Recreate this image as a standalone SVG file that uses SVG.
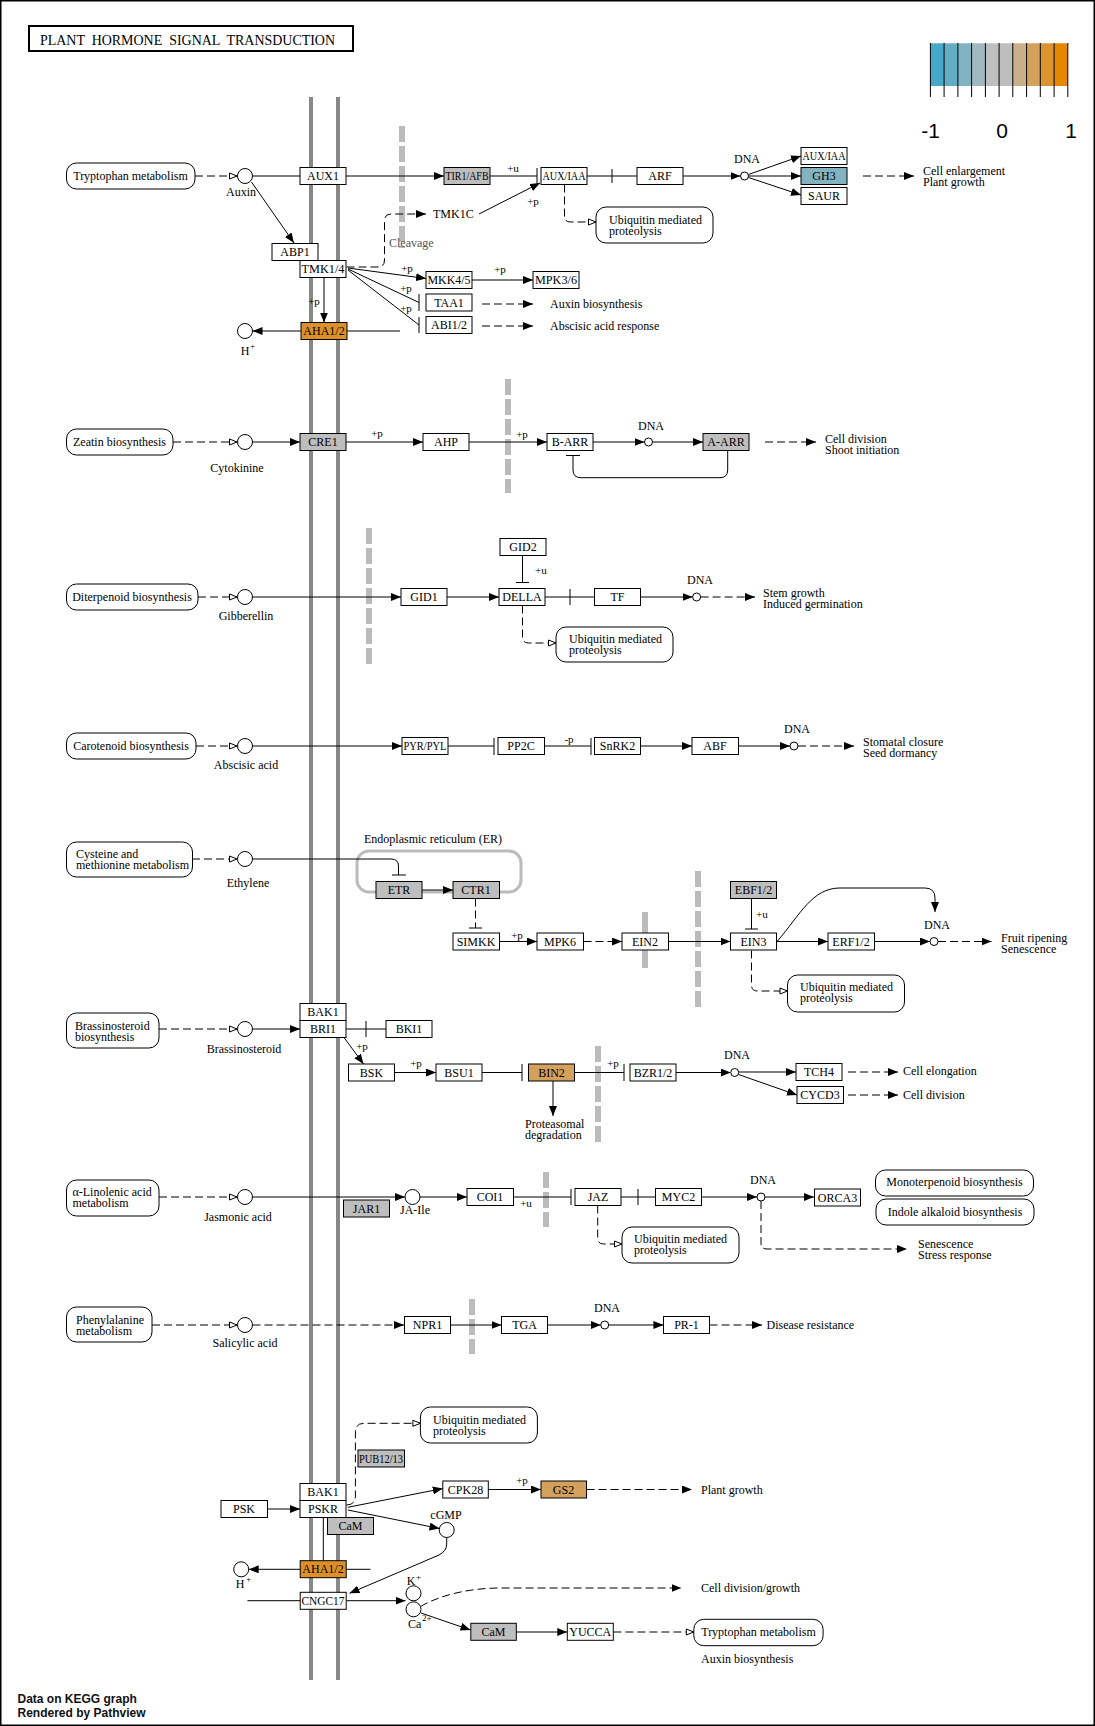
<svg xmlns="http://www.w3.org/2000/svg" width="1095" height="1726" viewBox="0 0 1095 1726">
<style>
.bx{fill:#fff;stroke:#000;stroke-width:1}
.gy{fill:#bebebe}
.or{fill:#de9028}
.tn{fill:#d3a15d}
.bl{fill:#83b3c1}
.tx{font-family:"Liberation Serif","Times New Roman",serif;font-size:12px;fill:#000}
.sm{font-size:11px}
.ct{text-anchor:middle}
.ln{fill:none;stroke:#000;stroke-width:1}
.ds{stroke-dasharray:8 4}
.sep{stroke:#bbb;stroke-width:6;stroke-dasharray:16 4;fill:none}
.cp{fill:#fff;stroke:#000;stroke-width:1}
.mem{stroke:#888;stroke-width:4}
</style>
<defs>
<marker id="ar" viewBox="0 0 10 8" markerUnits="userSpaceOnUse" markerWidth="10" markerHeight="8" refX="10" refY="4" orient="auto"><path d="M0,0L10,4L0,8z" fill="#000"/></marker>
<marker id="ho" viewBox="0 0 9 9" markerUnits="userSpaceOnUse" markerWidth="9" markerHeight="9" refX="8.5" refY="4.5" orient="auto"><path d="M1,1.5L8.5,4.5L1,7.5z" fill="#fff" stroke="#000" stroke-width="1"/></marker>
</defs>
<rect x="0" y="0" width="1095" height="1726" fill="#fff"/>
<rect x="0.75" y="0.75" width="1093.5" height="1724.5" fill="none" stroke="#000" stroke-width="1.5"/>

<g id="title"><rect x="29" y="26" width="324" height="25" fill="#fff" stroke="#000" stroke-width="2"/><text class="tx" x="40" y="45" style="font-size:15px;white-space:pre" xml:space="preserve" textLength="295" lengthAdjust="spacingAndGlyphs">PLANT  HORMONE  SIGNAL  TRANSDUCTION</text></g>

<g id="legend">
<rect x="930.4" y="43.3" width="13.8" height="42.7" fill="#46a9c8"/>
<rect x="944.1" y="43.3" width="13.8" height="42.7" fill="#64aec5"/>
<rect x="957.9" y="43.3" width="13.8" height="42.7" fill="#82b3c2"/>
<rect x="971.6" y="43.3" width="13.8" height="42.7" fill="#a0b8bf"/>
<rect x="985.4" y="43.3" width="13.8" height="42.7" fill="#bebebe"/>
<rect x="999.1" y="43.3" width="13.8" height="42.7" fill="#bebebe"/>
<rect x="1012.8" y="43.3" width="13.8" height="42.7" fill="#c9af8c"/>
<rect x="1026.6" y="43.3" width="13.8" height="42.7" fill="#d3a15c"/>
<rect x="1040.3" y="43.3" width="13.8" height="42.7" fill="#dc942e"/>
<rect x="1054.1" y="43.3" width="13.7" height="42.7" fill="#e58700"/>
<path d="M930.4,43V97M944.1,43V97M957.9,43V97M971.6,43V97M985.4,43V97M999.1,43V97M1012.8,43V97M1026.6,43V97M1040.3,43V97M1054.1,43V97M1067.8,43V97" stroke="#000" stroke-width="1"/>
<text x="930.5" y="138" text-anchor="middle" font-family="Liberation Sans, Arial, sans-serif" font-size="21">-1</text>
<text x="1002" y="138" text-anchor="middle" font-family="Liberation Sans, Arial, sans-serif" font-size="21">0</text>
<text x="1071" y="138" text-anchor="middle" font-family="Liberation Sans, Arial, sans-serif" font-size="21">1</text>
</g>

<g id="membrane"><line class="mem" x1="311" y1="97" x2="311" y2="1680"/><line class="mem" x1="338" y1="97" x2="338" y2="1680"/></g>

<g id="separators">
<line class="sep" x1="402" y1="126" x2="402" y2="248"/>
<line class="sep" x1="508" y1="379" x2="508" y2="493"/>
<line class="sep" x1="369" y1="528" x2="369" y2="664"/>
<line x1="645" y1="912" x2="645" y2="968" stroke="#bbb" stroke-width="6"/>
<line class="sep" x1="698" y1="871" x2="698" y2="1008"/>
<line class="sep" x1="598" y1="1046" x2="598" y2="1143"/>
<line class="sep" x1="546" y1="1172" x2="546" y2="1227"/>
<line class="sep" x1="472" y1="1299" x2="472" y2="1354"/>
<rect x="357" y="851" width="164" height="41" rx="12" fill="none" stroke="#bbb" stroke-width="3"/>
</g>

<g id="connectors">
<line class="ln ds" x1="195" y1="176" x2="237" y2="176" marker-end="url(#ho)"/>
<line class="ln" x1="252.5" y1="176" x2="300" y2="176"/>
<line class="ln" x1="346" y1="176" x2="444" y2="176" marker-end="url(#ar)"/>
<path class="ln" d="M490,176H537M537,168V184"/>
<path class="ln" d="M587,176H637M612,169V183"/>
<line class="ln" x1="683" y1="176" x2="740.5" y2="176" marker-end="url(#ar)"/>
<line class="ln" x1="748.5" y1="174.5" x2="801" y2="156" marker-end="url(#ar)"/>
<line class="ln" x1="748.5" y1="176" x2="801" y2="176" marker-end="url(#ar)"/>
<line class="ln" x1="748.5" y1="177.5" x2="801" y2="195" marker-end="url(#ar)"/>
<line class="ln ds" x1="863" y1="176" x2="914" y2="176" marker-end="url(#ar)"/>
<path class="ln ds" d="M564.5,184.5V216Q564.5,222 570.5,222H596" marker-end="url(#ho)"/>
<path class="ln ds" d="M346.5,267H378Q384.5,267 384.5,260V221Q384.5,214 391,214H426" marker-end="url(#ar)"/>
<line class="ln" x1="479" y1="214" x2="540" y2="183" marker-end="url(#ar)"/>
<line class="ln" x1="251.5" y1="182" x2="294" y2="243" marker-end="url(#ar)"/>
<line class="ln" x1="348" y1="268" x2="426" y2="278.5" marker-end="url(#ar)"/>
<line class="ln" x1="472" y1="280" x2="533" y2="280" marker-end="url(#ar)"/>
<path class="ln" d="M348,269L419,302.5M419,294V311"/>
<path class="ln" d="M348,270L419,325M419,317V333"/>
<line class="ln ds" x1="482" y1="304" x2="533" y2="304" marker-end="url(#ar)"/>
<line class="ln ds" x1="482" y1="326" x2="533" y2="326" marker-end="url(#ar)"/>
<line class="ln" x1="324" y1="277.5" x2="324" y2="322.5" marker-end="url(#ar)"/>
<line class="ln" x1="301" y1="331" x2="252.5" y2="331" marker-end="url(#ar)"/>
<line class="ln" x1="347" y1="331" x2="400" y2="331"/>
<line class="ln ds" x1="173" y1="442" x2="237" y2="442" marker-end="url(#ho)"/>
<line class="ln" x1="252.5" y1="442" x2="300" y2="442" marker-end="url(#ar)"/>
<line class="ln" x1="346" y1="442" x2="423" y2="442" marker-end="url(#ar)"/>
<line class="ln" x1="469" y1="442" x2="547" y2="442" marker-end="url(#ar)"/>
<line class="ln" x1="593" y1="442" x2="644.5" y2="442" marker-end="url(#ar)"/>
<line class="ln" x1="652.5" y1="442" x2="703" y2="442" marker-end="url(#ar)"/>
<path class="ln" d="M727.7,450.5V470Q727.7,477.7 720,477.7H581Q573,477.7 573,470V455.5M566,455.5H580"/>
<line class="ln ds" x1="765" y1="442" x2="816" y2="442" marker-end="url(#ar)"/>
<line class="ln ds" x1="198" y1="597" x2="237" y2="597" marker-end="url(#ho)"/>
<line class="ln" x1="252.5" y1="597" x2="401" y2="597" marker-end="url(#ar)"/>
<line class="ln" x1="447" y1="597" x2="499" y2="597" marker-end="url(#ar)"/>
<path class="ln" d="M522.5,555.5V582.5M516,582.5H529"/>
<path class="ln" d="M545,597H594M570,589V605"/>
<line class="ln" x1="640.5" y1="597" x2="692.6" y2="597" marker-end="url(#ar)"/>
<line class="ln ds" x1="700.6" y1="597" x2="755" y2="597" marker-end="url(#ar)"/>
<path class="ln ds" d="M522.5,605.5V637Q522.5,643 528.5,643H556" marker-end="url(#ho)"/>
<line class="ln ds" x1="196" y1="746" x2="237" y2="746" marker-end="url(#ho)"/>
<line class="ln" x1="252.5" y1="746" x2="402" y2="746" marker-end="url(#ar)"/>
<path class="ln" d="M448,746H494M494,738V755"/>
<path class="ln" d="M544.5,746H591M591,738V755"/>
<line class="ln" x1="640.5" y1="746" x2="692" y2="746" marker-end="url(#ar)"/>
<line class="ln" x1="738.5" y1="746" x2="790" y2="746" marker-end="url(#ar)"/>
<line class="ln ds" x1="798" y1="746" x2="854" y2="746" marker-end="url(#ar)"/>
<line class="ln ds" x1="192" y1="859" x2="237" y2="859" marker-end="url(#ho)"/>
<path class="ln" d="M252.5,859H391Q398.5,859 398.5,866V875M392,875H406"/>
<line class="ln" x1="422" y1="890" x2="453" y2="890" marker-end="url(#ar)"/>
<path class="ln ds" d="M475.5,898.5V928"/>
<path class="ln" d="M469,928H482"/>
<line class="ln" x1="499.5" y1="941.5" x2="537" y2="941.5" marker-end="url(#ar)"/>
<line class="ln ds" x1="583.5" y1="941.5" x2="622" y2="941.5" marker-end="url(#ar)"/>
<line class="ln" x1="668.5" y1="941.5" x2="730.5" y2="941.5" marker-end="url(#ar)"/>
<path class="ln" d="M751.5,898.5V929M745,929H758"/>
<path class="ln" d="M777.5,941C800,915 812,888 840,888H925Q935,888 935,898V912" marker-end="url(#ar)"/>
<line class="ln" x1="776.5" y1="941.5" x2="828" y2="941.5" marker-end="url(#ar)"/>
<line class="ln" x1="874.5" y1="941.5" x2="930" y2="941.5" marker-end="url(#ar)"/>
<line class="ln ds" x1="938" y1="941.5" x2="991.5" y2="941.5" marker-end="url(#ar)"/>
<path class="ln ds" d="M751.5,950.5V985Q751.5,991 757.5,991H787.5" marker-end="url(#ho)"/>
<line class="ln ds" x1="159" y1="1029" x2="237" y2="1029" marker-end="url(#ho)"/>
<line class="ln" x1="252.5" y1="1029" x2="300" y2="1029" marker-end="url(#ar)"/>
<path class="ln" d="M346,1029H386M366,1021V1037"/>
<line class="ln" x1="344" y1="1037.5" x2="363.5" y2="1064" marker-end="url(#ar)"/>
<line class="ln" x1="394" y1="1072.5" x2="436" y2="1072.5" marker-end="url(#ar)"/>
<path class="ln" d="M482,1072.5H522M522,1064V1081"/>
<line class="ln" x1="553" y1="1081" x2="553" y2="1116" marker-end="url(#ar)"/>
<path class="ln" d="M574.5,1072.5H624M624,1064V1081"/>
<line class="ln" x1="676" y1="1072.5" x2="730.7" y2="1072.5" marker-end="url(#ar)"/>
<line class="ln" x1="738.7" y1="1072" x2="796" y2="1072" marker-end="url(#ar)"/>
<line class="ln" x1="738.5" y1="1074.5" x2="797" y2="1095" marker-end="url(#ar)"/>
<line class="ln ds" x1="848" y1="1072" x2="898" y2="1072" marker-end="url(#ar)"/>
<line class="ln ds" x1="848" y1="1095" x2="898" y2="1095" marker-end="url(#ar)"/>
<line class="ln ds" x1="159" y1="1197" x2="237" y2="1197" marker-end="url(#ho)"/>
<line class="ln" x1="252.5" y1="1197" x2="405" y2="1197" marker-end="url(#ar)"/>
<line class="ln" x1="420" y1="1197" x2="467" y2="1197" marker-end="url(#ar)"/>
<path class="ln" d="M513.5,1197H571M571,1189V1205"/>
<path class="ln" d="M621,1197H655M638,1189V1205"/>
<line class="ln" x1="701.5" y1="1197" x2="757" y2="1197" marker-end="url(#ar)"/>
<line class="ln" x1="765" y1="1197" x2="814" y2="1197" marker-end="url(#ar)"/>
<path class="ln ds" d="M761,1201V1243Q761,1249 767,1249H907" marker-end="url(#ar)"/>
<path class="ln ds" d="M597.7,1205.5V1238Q597.7,1244 603.7,1244H622" marker-end="url(#ho)"/>
<line class="ln ds" x1="152" y1="1325" x2="237" y2="1325" marker-end="url(#ho)"/>
<line class="ln ds" x1="252.5" y1="1325" x2="404" y2="1325" marker-end="url(#ar)"/>
<line class="ln" x1="450.5" y1="1325" x2="501.5" y2="1325" marker-end="url(#ar)"/>
<line class="ln" x1="547.5" y1="1325" x2="600.7" y2="1325" marker-end="url(#ar)"/>
<line class="ln" x1="608.7" y1="1325" x2="663.4" y2="1325" marker-end="url(#ar)"/>
<line class="ln ds" x1="709.5" y1="1325" x2="762" y2="1325" marker-end="url(#ar)"/>
<path class="ln ds" d="M346.5,1505Q355.4,1505 355.4,1496V1432Q355.4,1423.3 364,1423.3H420.4" marker-end="url(#ho)"/>
<line class="ln" x1="267.5" y1="1509" x2="300" y2="1509" marker-end="url(#ar)"/>
<line class="ln" x1="347.8" y1="1507.3" x2="442.8" y2="1488.5" marker-end="url(#ar)"/>
<line class="ln" x1="488.5" y1="1489.5" x2="541" y2="1489.5" marker-end="url(#ar)"/>
<line class="ln ds" x1="586.5" y1="1489.5" x2="692" y2="1489.5" marker-end="url(#ar)"/>
<line class="ln" x1="347.8" y1="1510" x2="439.5" y2="1528.5" marker-end="url(#ar)"/>
<line class="ln" x1="323.3" y1="1517.5" x2="323.3" y2="1560.7"/>
<line class="ln" x1="300" y1="1569.3" x2="248.7" y2="1569.3" marker-end="url(#ar)"/>
<line class="ln" x1="346.5" y1="1569.3" x2="370.5" y2="1569.3"/>
<path class="ln" d="M446.7,1537.5V1544Q446.7,1551 439,1555L349.5,1593.3" marker-end="url(#ar)"/>
<line class="ln" x1="247.4" y1="1600.7" x2="300.2" y2="1600.7"/>
<line class="ln" x1="346.5" y1="1600.7" x2="405.5" y2="1600.7" marker-end="url(#ar)"/>
<path class="ln ds" d="M420.5,1606.5C440,1595 470,1588 500,1588H681.5" marker-end="url(#ar)"/>
<line class="ln" x1="421" y1="1613" x2="470.5" y2="1630" marker-end="url(#ar)"/>
<line class="ln" x1="516.2" y1="1632" x2="567.3" y2="1632" marker-end="url(#ar)"/>
<line class="ln ds" x1="613.4" y1="1632" x2="693.8" y2="1632" marker-end="url(#ho)"/>
</g>

<g id="labels" class="tx">
<text class="tx sm" x="513" y="172" text-anchor="middle">+u</text>
<text class="tx" x="433" y="218">TMK1C</text>
<text class="tx" x="389" y="247" style="fill:#555">Cleavage</text>
<text class="tx sm" x="533" y="205" text-anchor="middle">+p</text>
<text class="tx sm" x="407" y="272" text-anchor="middle">+p</text>
<text class="tx sm" x="500" y="273" text-anchor="middle">+p</text>
<text class="tx sm" x="406" y="292" text-anchor="middle">+p</text>
<text class="tx sm" x="406" y="312" text-anchor="middle">+p</text>
<text class="tx sm" x="314" y="305" text-anchor="middle">+p</text>
<text class="tx" x="747" y="163" text-anchor="middle">DNA</text>
<text class="tx" x="923" y="175">Cell enlargement</text>
<text class="tx" x="923" y="186">Plant growth</text>
<text class="tx" x="550" y="308">Auxin biosynthesis</text>
<text class="tx" x="550" y="330">Abscisic acid response</text>
<text class="tx sm" x="377" y="437" text-anchor="middle">+p</text>
<text class="tx sm" x="522" y="438" text-anchor="middle">+p</text>
<text class="tx" x="651" y="430" text-anchor="middle">DNA</text>
<text class="tx" x="825" y="443">Cell division</text>
<text class="tx" x="825" y="454">Shoot initiation</text>
<text class="tx sm" x="535" y="574">+u</text>
<text class="tx" x="700" y="584" text-anchor="middle">DNA</text>
<text class="tx" x="763" y="597">Stem growth</text>
<text class="tx" x="763" y="608">Induced germination</text>
<text class="tx sm" x="569" y="743" text-anchor="middle">-p</text>
<text class="tx" x="797" y="733" text-anchor="middle">DNA</text>
<text class="tx" x="863" y="746">Stomatal closure</text>
<text class="tx" x="863" y="757">Seed dormancy</text>
<text class="tx" x="433" y="843" text-anchor="middle">Endoplasmic reticulum (ER)</text>
<text class="tx sm" x="517" y="939" text-anchor="middle">+p</text>
<text class="tx sm" x="756" y="918">+u</text>
<text class="tx" x="937" y="929" text-anchor="middle">DNA</text>
<text class="tx" x="1001" y="942">Fruit ripening</text>
<text class="tx" x="1001" y="953">Senescence</text>
<text class="tx sm" x="362" y="1050" text-anchor="middle">+p</text>
<text class="tx sm" x="416" y="1067" text-anchor="middle">+p</text>
<text class="tx" x="525" y="1128">Proteasomal</text>
<text class="tx" x="525" y="1139">degradation</text>
<text class="tx sm" x="613" y="1067" text-anchor="middle">+p</text>
<text class="tx" x="737" y="1059" text-anchor="middle">DNA</text>
<text class="tx" x="903" y="1075">Cell elongation</text>
<text class="tx" x="903" y="1099">Cell division</text>
<text class="tx sm" x="526" y="1207" text-anchor="middle">+u</text>
<text class="tx" x="763" y="1184" text-anchor="middle">DNA</text>
<text class="tx" x="918" y="1248">Senescence</text>
<text class="tx" x="918" y="1259">Stress response</text>
<text class="tx" x="607" y="1312" text-anchor="middle">DNA</text>
<text class="tx" x="766.5" y="1329">Disease resistance</text>
<text class="tx sm" x="522" y="1484" text-anchor="middle">+p</text>
<text class="tx" x="701" y="1494">Plant growth</text>
<text class="tx" x="701" y="1592">Cell division/growth</text>
<text class="tx" x="701" y="1663">Auxin biosynthesis</text>
</g>

<g id="compounds">
<g id="c-auxin"><circle class="cp" cx="245" cy="176" r="7.5"/><text class="tx ct" x="241" y="196">Auxin</text></g>
<g id="c-hplus1"><circle class="cp" cx="245" cy="331" r="7.5"/><text class="tx ct" x="245" y="355">H</text><text class="tx" x="250" y="349" style="font-size:9px">+</text></g>
<g id="c-cytokinine"><circle class="cp" cx="245" cy="442" r="7.5"/><text class="tx ct" x="237" y="472">Cytokinine</text></g>
<g id="c-gibberellin"><circle class="cp" cx="245" cy="597" r="7.5"/><text class="tx ct" x="246" y="620">Gibberellin</text></g>
<g id="c-abscisic"><circle class="cp" cx="245" cy="746" r="7.5"/><text class="tx ct" x="246" y="769">Abscisic acid</text></g>
<g id="c-ethylene"><circle class="cp" cx="245" cy="859" r="7.5"/><text class="tx ct" x="248" y="887">Ethylene</text></g>
<g id="c-brassinosteroid"><circle class="cp" cx="245" cy="1029" r="7.5"/><text class="tx ct" x="244" y="1053">Brassinosteroid</text></g>
<g id="c-jasmonic"><circle class="cp" cx="245" cy="1197" r="7.5"/><text class="tx ct" x="238" y="1221">Jasmonic acid</text></g>
<g id="c-jaile"><circle class="cp" cx="412.5" cy="1197" r="7.5"/><text class="tx ct" x="415" y="1214">JA-Ile</text></g>
<g id="c-salicylic"><circle class="cp" cx="245" cy="1325" r="7.5"/><text class="tx ct" x="245" y="1347">Salicylic acid</text></g>
<g id="c-cgmp"><circle class="cp" cx="446.7" cy="1530" r="7.5"/><text class="tx ct" x="446" y="1519">cGMP</text></g>
<g id="c-hplus2"><circle class="cp" cx="241.2" cy="1569.3" r="7.5"/><text class="tx ct" x="240" y="1588">H</text><text class="tx" x="246" y="1582" style="font-size:9px">+</text></g>
<g id="c-k"><circle class="cp" cx="413.5" cy="1593.3" r="7.5"/><text class="tx ct" x="411" y="1585">K</text><text class="tx" x="416" y="1580" style="font-size:9px">+</text></g>
<g id="c-ca"><circle class="cp" cx="413.5" cy="1609.3" r="7.5"/><text class="tx" x="408" y="1628">Ca</text><text class="tx" x="422" y="1621" style="font-size:9px">2+</text></g>
<g id="c-dna1"><circle class="cp" cx="744.5" cy="176" r="4"/></g>
<g id="c-dna2"><circle class="cp" cx="648.5" cy="442" r="4"/></g>
<g id="c-dna3"><circle class="cp" cx="696.6" cy="597" r="4"/></g>
<g id="c-dna4"><circle class="cp" cx="794" cy="746" r="4"/></g>
<g id="c-dna5"><circle class="cp" cx="934" cy="941.5" r="4"/></g>
<g id="c-dna6"><circle class="cp" cx="734.7" cy="1072.5" r="4"/></g>
<g id="c-dna7"><circle class="cp" cx="761" cy="1197" r="4"/></g>
<g id="c-dna8"><circle class="cp" cx="604.7" cy="1325" r="4"/></g>
</g>

<g id="maps">
<g id="m-trp1"><rect class="bx" x="66.5" y="163" width="128.5" height="26" rx="10"/><text class="tx ct" x="130.5" y="180">Tryptophan metabolism</text></g>
<g id="m-ubq1"><rect class="bx" x="596" y="207" width="117" height="36" rx="10"/><text class="tx" x="609" y="224">Ubiquitin mediated</text><text class="tx" x="609" y="235">proteolysis</text></g>
<g id="m-zeatin"><rect class="bx" x="66.5" y="429" width="106.5" height="26" rx="10"/><text class="tx ct" x="119.5" y="446">Zeatin biosynthesis</text></g>
<g id="m-diterpenoid"><rect class="bx" x="66.5" y="584" width="131.5" height="26" rx="10"/><text class="tx ct" x="132" y="601">Diterpenoid biosynthesis</text></g>
<g id="m-ubq2"><rect class="bx" x="556" y="627" width="117" height="35" rx="10"/><text class="tx" x="569" y="643">Ubiquitin mediated</text><text class="tx" x="569" y="654">proteolysis</text></g>
<g id="m-carotenoid"><rect class="bx" x="66.5" y="733" width="129.5" height="26" rx="10"/><text class="tx ct" x="131" y="750">Carotenoid biosynthesis</text></g>
<g id="m-cysteine"><rect class="bx" x="66.5" y="842" width="126" height="35" rx="10"/><text class="tx" x="76" y="858">Cysteine and</text><text class="tx" x="76" y="869">methionine metabolism</text></g>
<g id="m-ubq3"><rect class="bx" x="787.5" y="975" width="117" height="37" rx="10"/><text class="tx" x="800" y="991">Ubiquitin mediated</text><text class="tx" x="800" y="1002">proteolysis</text></g>
<g id="m-brassino"><rect class="bx" x="66.5" y="1013" width="92.5" height="35" rx="10"/><text class="tx" x="75" y="1030">Brassinosteroid</text><text class="tx" x="75" y="1041">biosynthesis</text></g>
<g id="m-linolenic"><rect class="bx" x="66.5" y="1180" width="92.5" height="36" rx="10"/><text class="tx" x="72.5" y="1196">α-Linolenic acid</text><text class="tx" x="72.5" y="1207">metabolism</text></g>
<g id="m-ubq4"><rect class="bx" x="622" y="1227" width="117" height="36" rx="10"/><text class="tx" x="634" y="1243">Ubiquitin mediated</text><text class="tx" x="634" y="1254">proteolysis</text></g>
<g id="m-monoterpenoid"><rect class="bx" x="875.5" y="1170" width="158" height="26" rx="10"/><text class="tx ct" x="954.5" y="1186">Monoterpenoid biosynthesis</text></g>
<g id="m-indole"><rect class="bx" x="876" y="1199" width="158" height="26" rx="10"/><text class="tx ct" x="955" y="1216">Indole alkaloid biosynthesis</text></g>
<g id="m-phenylalanine"><rect class="bx" x="66.5" y="1307" width="85.5" height="35" rx="10"/><text class="tx" x="76" y="1324">Phenylalanine</text><text class="tx" x="76" y="1335">metabolism</text></g>
<g id="m-ubq5"><rect class="bx" x="420.4" y="1407" width="117" height="36" rx="10"/><text class="tx" x="433" y="1424">Ubiquitin mediated</text><text class="tx" x="433" y="1435">proteolysis</text></g>
<g id="m-trp2"><rect class="bx" x="693.8" y="1619.3" width="129.3" height="26.4" rx="10"/><text class="tx ct" x="758.5" y="1636">Tryptophan metabolism</text></g>
</g>

<g id="genes">
<g id="g-AUX1"><rect class="bx" x="300" y="167.5" width="46" height="17"/><text class="tx ct" x="323" y="180">AUX1</text></g>
<g id="g-TIR1"><rect class="bx gy" x="444" y="167.5" width="46" height="17"/><text class="tx ct" x="467" y="180" textLength="43" lengthAdjust="spacingAndGlyphs">TIR1/AFB</text></g>
<g id="g-AUXIAA1"><rect class="bx" x="541" y="167.5" width="46" height="17"/><text class="tx ct" x="564" y="180" textLength="43" lengthAdjust="spacingAndGlyphs">AUX/IAA</text></g>
<g id="g-ARF"><rect class="bx" x="637" y="167.5" width="46" height="17"/><text class="tx ct" x="660" y="180">ARF</text></g>
<g id="g-AUXIAA2"><rect class="bx" x="801" y="147.5" width="46" height="17"/><text class="tx ct" x="824" y="160" textLength="43" lengthAdjust="spacingAndGlyphs">AUX/IAA</text></g>
<g id="g-GH3"><rect class="bx bl" x="801" y="167.5" width="46" height="17"/><text class="tx ct" x="824" y="180">GH3</text></g>
<g id="g-SAUR"><rect class="bx" x="801" y="187.5" width="46" height="17"/><text class="tx ct" x="824" y="200">SAUR</text></g>
<g id="g-ABP1"><rect class="bx" x="272" y="243.5" width="46" height="17"/><text class="tx ct" x="295" y="256">ABP1</text></g>
<g id="g-TMK14"><rect class="bx" x="300" y="260.5" width="46" height="17"/><text class="tx ct" x="323" y="273" textLength="43" lengthAdjust="spacingAndGlyphs">TMK1/4</text></g>
<g id="g-MKK45"><rect class="bx" x="426" y="271.5" width="46" height="17"/><text class="tx ct" x="449" y="284" textLength="43" lengthAdjust="spacingAndGlyphs">MKK4/5</text></g>
<g id="g-MPK36"><rect class="bx" x="533" y="271.5" width="46" height="17"/><text class="tx ct" x="556" y="284" textLength="42" lengthAdjust="spacingAndGlyphs">MPK3/6</text></g>
<g id="g-TAA1"><rect class="bx" x="426" y="294" width="46" height="17"/><text class="tx ct" x="449" y="306.5">TAA1</text></g>
<g id="g-ABI12"><rect class="bx" x="426" y="316.5" width="46" height="17"/><text class="tx ct" x="449" y="329">ABI1/2</text></g>
<g id="g-AHA12a"><rect class="bx or" x="301" y="322.5" width="46" height="17"/><text class="tx ct" x="324" y="335">AHA1/2</text></g>
<g id="g-CRE1"><rect class="bx gy" x="300" y="433.5" width="46" height="17"/><text class="tx ct" x="323" y="446">CRE1</text></g>
<g id="g-AHP"><rect class="bx" x="423" y="433.5" width="46" height="17"/><text class="tx ct" x="446" y="446">AHP</text></g>
<g id="g-BARR"><rect class="bx" x="547" y="433.5" width="46" height="17"/><text class="tx ct" x="570" y="446">B-ARR</text></g>
<g id="g-AARR"><rect class="bx gy" x="703" y="433.5" width="46" height="17"/><text class="tx ct" x="726" y="446">A-ARR</text></g>
<g id="g-GID1"><rect class="bx" x="401" y="588.5" width="46" height="17"/><text class="tx ct" x="424" y="601">GID1</text></g>
<g id="g-DELLA"><rect class="bx" x="499" y="588.5" width="46" height="17"/><text class="tx ct" x="522" y="601">DELLA</text></g>
<g id="g-GID2"><rect class="bx" x="500" y="538.5" width="46" height="17"/><text class="tx ct" x="523" y="551">GID2</text></g>
<g id="g-TF"><rect class="bx" x="594.5" y="588.5" width="46" height="17"/><text class="tx ct" x="617.5" y="601">TF</text></g>
<g id="g-PYR"><rect class="bx" x="402" y="737.5" width="46" height="17"/><text class="tx ct" x="425" y="750" textLength="43" lengthAdjust="spacingAndGlyphs">PYR/PYL</text></g>
<g id="g-PP2C"><rect class="bx" x="498" y="737.5" width="46.5" height="17"/><text class="tx ct" x="521" y="750">PP2C</text></g>
<g id="g-SnRK2"><rect class="bx" x="594.5" y="737.5" width="46" height="17"/><text class="tx ct" x="617.5" y="750">SnRK2</text></g>
<g id="g-ABF"><rect class="bx" x="692" y="737.5" width="46.5" height="17"/><text class="tx ct" x="715" y="750">ABF</text></g>
<g id="g-ETR"><rect class="bx gy" x="376" y="881.5" width="46" height="17"/><text class="tx ct" x="399" y="894">ETR</text></g>
<g id="g-CTR1"><rect class="bx gy" x="453" y="881.5" width="46.5" height="17"/><text class="tx ct" x="476" y="894">CTR1</text></g>
<g id="g-SIMKK"><rect class="bx" x="453" y="933" width="46.5" height="17"/><text class="tx ct" x="476" y="945.5">SIMKK</text></g>
<g id="g-MPK6"><rect class="bx" x="537" y="933" width="46.5" height="17"/><text class="tx ct" x="560" y="945.5">MPK6</text></g>
<g id="g-EIN2"><rect class="bx" x="622" y="933" width="46.5" height="17"/><text class="tx ct" x="645" y="945.5">EIN2</text></g>
<g id="g-EIN3"><rect class="bx" x="730.5" y="933" width="46" height="17"/><text class="tx ct" x="753.5" y="945.5">EIN3</text></g>
<g id="g-EBF12"><rect class="bx gy" x="730.5" y="881.5" width="46" height="17"/><text class="tx ct" x="753.5" y="894">EBF1/2</text></g>
<g id="g-ERF12"><rect class="bx" x="828" y="933" width="46.5" height="17"/><text class="tx ct" x="851" y="945.5">ERF1/2</text></g>
<g id="g-BAK1a"><rect class="bx" x="300" y="1003.5" width="46" height="17"/><text class="tx ct" x="323" y="1016">BAK1</text></g>
<g id="g-BRI1"><rect class="bx" x="300" y="1020.5" width="46" height="17"/><text class="tx ct" x="323" y="1033">BRI1</text></g>
<g id="g-BKI1"><rect class="bx" x="386" y="1020.5" width="46" height="17"/><text class="tx ct" x="409" y="1033">BKI1</text></g>
<g id="g-BSK"><rect class="bx" x="348.5" y="1064" width="46" height="17"/><text class="tx ct" x="371.5" y="1076.5">BSK</text></g>
<g id="g-BSU1"><rect class="bx" x="436" y="1064" width="46" height="17"/><text class="tx ct" x="459" y="1076.5">BSU1</text></g>
<g id="g-BIN2"><rect class="bx tn" x="528.5" y="1064" width="46" height="17"/><text class="tx ct" x="551.5" y="1076.5">BIN2</text></g>
<g id="g-BZR12"><rect class="bx" x="630" y="1064" width="46" height="17"/><text class="tx ct" x="653" y="1076.5">BZR1/2</text></g>
<g id="g-TCH4"><rect class="bx" x="796" y="1063.5" width="46" height="17"/><text class="tx ct" x="819" y="1076">TCH4</text></g>
<g id="g-CYCD3"><rect class="bx" x="797" y="1086.5" width="46.5" height="17"/><text class="tx ct" x="820" y="1099">CYCD3</text></g>
<g id="g-JAR1"><rect class="bx gy" x="343.5" y="1200" width="46" height="17"/><text class="tx ct" x="366.5" y="1212.5">JAR1</text></g>
<g id="g-COI1"><rect class="bx" x="467" y="1188.5" width="46.5" height="17"/><text class="tx ct" x="490" y="1201">COI1</text></g>
<g id="g-JAZ"><rect class="bx" x="575" y="1188.5" width="46" height="17"/><text class="tx ct" x="598" y="1201">JAZ</text></g>
<g id="g-MYC2"><rect class="bx" x="655.5" y="1188.5" width="46" height="17"/><text class="tx ct" x="678.5" y="1201">MYC2</text></g>
<g id="g-ORCA3"><rect class="bx" x="814.5" y="1189" width="46" height="17"/><text class="tx ct" x="837.5" y="1201.5">ORCA3</text></g>
<g id="g-NPR1"><rect class="bx" x="404.5" y="1316.5" width="46" height="17"/><text class="tx ct" x="427.5" y="1329">NPR1</text></g>
<g id="g-TGA"><rect class="bx" x="501.5" y="1316.5" width="46" height="17"/><text class="tx ct" x="524.5" y="1329">TGA</text></g>
<g id="g-PR1"><rect class="bx" x="663.5" y="1316.5" width="46" height="17"/><text class="tx ct" x="686.5" y="1329">PR-1</text></g>
<g id="g-PUB"><rect class="bx gy" x="358" y="1450" width="46.5" height="17"/><text class="tx ct" x="381" y="1462.5" textLength="44" lengthAdjust="spacingAndGlyphs">PUB12/13</text></g>
<g id="g-BAK1b"><rect class="bx" x="300" y="1483.5" width="46" height="17"/><text class="tx ct" x="323" y="1496">BAK1</text></g>
<g id="g-PSKR"><rect class="bx" x="300" y="1500.5" width="46" height="17"/><text class="tx ct" x="323" y="1513">PSKR</text></g>
<g id="g-PSK"><rect class="bx" x="221" y="1500.5" width="46.5" height="17"/><text class="tx ct" x="244" y="1513">PSK</text></g>
<g id="g-CPK28"><rect class="bx" x="442.8" y="1481" width="45.5" height="17"/><text class="tx ct" x="465.5" y="1493.5">CPK28</text></g>
<g id="g-GS2"><rect class="bx tn" x="541" y="1481" width="45.5" height="17"/><text class="tx ct" x="563.5" y="1493.5">GS2</text></g>
<g id="g-CaM1"><rect class="bx gy" x="327.5" y="1517.5" width="46" height="17"/><text class="tx ct" x="350.5" y="1530">CaM</text></g>
<g id="g-AHA12b"><rect class="bx or" x="300.2" y="1560.7" width="46" height="17"/><text class="tx ct" x="323" y="1573.2">AHA1/2</text></g>
<g id="g-CNGC17"><rect class="bx" x="300.2" y="1592.3" width="46" height="17"/><text class="tx ct" x="323" y="1604.8" textLength="43" lengthAdjust="spacingAndGlyphs">CNGC17</text></g>
<g id="g-CaM2"><rect class="bx gy" x="470.8" y="1623.3" width="45.5" height="17"/><text class="tx ct" x="493.5" y="1636">CaM</text></g>
<g id="g-YUCCA"><rect class="bx" x="567.3" y="1623.3" width="46" height="17"/><text class="tx ct" x="590.3" y="1636">YUCCA</text></g>
</g>

<g id="footer" font-family="Liberation Sans, Arial, sans-serif" font-size="12" font-weight="bold" fill="#111">
<text x="17.5" y="1703">Data on KEGG graph</text>
<text x="17.5" y="1717">Rendered by Pathview</text>
</g>
</svg>
